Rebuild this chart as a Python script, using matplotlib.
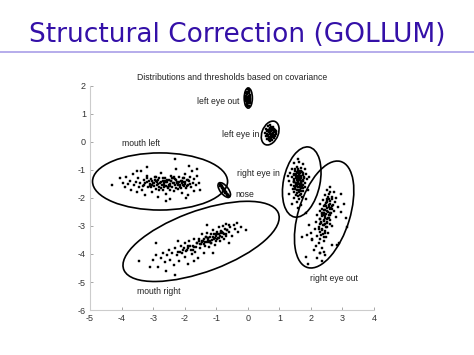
import matplotlib
matplotlib.use("Agg")
import matplotlib.pyplot as plt
from matplotlib.patches import Ellipse
from matplotlib.lines import Line2D

# ---------------- data ----------------
slide_title = "Structural Correction (GOLLUM)"
chart_title = "Distributions and thresholds based on covariance"
x_ticks = [-5, -4, -3, -2, -1, 0, 1, 2, 3, 4]
y_ticks = [-6, -5, -4, -3, -2, -1, 0, 1, 2]

mouth_left_x = [-4.30, -4.05, -3.95, -3.90, -3.85, -3.80, -3.72, -3.70, -3.65, -3.60, -3.55, -3.52, -3.48, -3.45,
                -3.40, -3.38, -3.35, -3.30, -3.28, -3.25, -3.20, -3.18, -3.15, -3.10, -3.08, -3.05, -3.00, -2.98,
                -2.95, -2.92, -2.90, -2.88, -2.85, -2.82, -2.80, -2.78, -2.75, -2.72, -2.70, -2.68, -2.65, -2.62,
                -2.60, -2.58, -2.55, -2.52, -2.50, -2.48, -2.45, -2.42, -2.40, -2.38, -2.35, -2.32, -2.30, -2.28,
                -2.25, -2.22, -2.20, -2.18, -2.15, -2.12, -2.10, -2.08, -2.05, -2.02, -2.00, -1.98, -1.95, -1.92,
                -1.90, -1.88, -1.85, -1.82, -1.80, -1.78, -1.75, -1.72, -1.70, -1.65, -1.60, -1.55, -1.50, -2.30,
                -1.85, -3.20, -2.60, -3.50, -1.95, -1.62, -2.66, -2.44, -2.86, -2.24, -2.06, -3.02, -2.54, -2.36,
                -3.25, -3.12, -3.02, -2.94, -2.84, -2.76, -2.66, -2.56, -2.46, -2.34, -2.26, -2.16, -2.04, -1.94,
                -1.84, -3.18, -3.06, -2.96, -2.87, -2.74, -2.63, -2.51, -2.41, -2.29, -2.19, -2.09, -1.99, -1.89,
                -3.32, -2.70, -2.58, -2.47, -2.35, -2.22, -2.12, -2.02, -3.10, -2.90, -2.80, -2.44]
mouth_left_y = [-1.55, -1.30, -1.45, -1.62, -1.25, -1.50, -1.38, -1.70, -1.15, -1.55, -1.42, -1.80, -1.30, -1.60,
                -1.48, -1.05, -1.72, -1.35, -1.55, -1.90, -1.42, -1.20, -1.62, -1.50, -1.33, -1.78, -1.45, -1.58,
                -1.25, -1.68, -1.40, -1.52, -1.95, -1.30, -1.60, -1.45, -1.12, -1.55, -1.38, -1.70, -1.48, -1.28,
                -1.58, -1.85, -1.42, -1.65, -1.35, -1.50, -2.05, -1.22, -1.62, -1.45, -1.75, -1.32, -1.55, -0.95,
                -1.42, -1.68, -1.50, -1.25, -1.60, -1.38, -1.82, -1.48, -1.30, -1.58, -1.42, -1.15, -1.65, -1.35,
                -1.52, -1.90, -1.40, -1.25, -1.62, -1.05, -1.45, -1.75, -1.32, -1.55, -1.20, -1.48, -1.70, -0.60,
                -0.85, -0.90, -2.10, -1.05, -2.00, -0.95, -1.52, -1.40, -1.36, -1.46, -1.52, -1.40, -1.60, -1.28,
                -1.46, -1.40, -1.55, -1.36, -1.50, -1.42, -1.60, -1.34, -1.56, -1.46, -1.36, -1.54, -1.44, -1.58,
                -1.50, -1.28, -1.62, -1.48, -1.44, -1.66, -1.40, -1.52, -1.30, -1.64, -1.42, -1.38, -1.50, -1.34,
                -1.58, -1.30, -1.44, -1.70, -1.26, -1.54, -1.66, -1.28, -1.56, -1.26, -1.72, -1.40]

mouth_right_x = [-3.45, -3.10, -3.00, -2.90, -2.85, -2.75, -2.70, -2.62, -2.55, -2.50, -2.45, -2.40, -2.35, -2.30,
                 -2.25, -2.20, -2.18, -2.12, -2.10, -2.05, -2.00, -1.98, -1.95, -1.90, -1.88, -1.85, -1.80, -1.78,
                 -1.75, -1.70, -1.68, -1.65, -1.60, -1.58, -1.55, -1.50, -1.48, -1.45, -1.42, -1.40, -1.38, -1.35,
                 -1.32, -1.30, -1.28, -1.25, -1.22, -1.20, -1.18, -1.15, -1.12, -1.10, -1.08, -1.05, -1.02, -1.00,
                 -0.98, -0.95, -0.92, -0.90, -0.88, -0.85, -0.82, -0.80, -0.78, -0.75, -0.72, -0.70, -0.68, -0.65,
                 -0.60, -0.58, -0.55, -0.50, -0.45, -0.40, -0.35, -0.30, -0.20, -0.05, -2.60, -1.70, -1.10, -2.20,
                 -2.30, -2.90, -0.60, -1.30, -1.26, -1.02, -0.84, -1.46,
                 -2.15, -2.02, -1.92, -1.82, -1.72, -1.62, -1.52, -1.44, -1.36, -1.27, -1.19, -1.11, -1.04, -0.96,
                 -0.89, -0.81, -0.74, -0.66, -1.56, -1.40, -1.24, -1.06, -0.92, -1.74, -1.88, -1.33, -1.16, -0.98,
                 -0.86, -0.70]
mouth_right_y = [-4.25, -4.45, -4.20, -4.05, -4.48, -4.15, -3.95, -4.30, -4.05, -3.85, -4.20, -3.98, -4.40, -3.80,
                 -4.05, -3.92, -4.25, -3.70, -3.98, -3.85, -4.12, -3.62, -3.90, -3.78, -4.35, -3.55, -3.85, -4.00,
                 -3.70, -3.48, -3.92, -3.75, -3.60, -4.15, -3.45, -3.80, -3.65, -3.30, -3.55, -3.95, -3.48, -3.70,
                 -3.38, -3.58, -3.25, -3.50, -3.75, -3.40, -3.62, -3.30, -3.50, -3.15, -3.45, -3.68, -3.35, -3.55,
                 -3.22, -3.42, -3.05, -3.30, -3.55, -3.18, -3.38, -3.00, -3.25, -3.45, -3.10, -2.92, -3.30, -3.15,
                 -2.95, -3.22, -3.05, -3.35, -2.98, -3.12, -2.90, -3.20, -3.05, -3.15, -4.60, -4.25, -3.95, -3.55,
                 -4.75, -3.60, -3.60, -2.95, -3.42, -3.28, -3.20, -3.58,
                 -3.92, -3.80, -3.84, -3.70, -3.74, -3.62, -3.66, -3.52, -3.58, -3.44, -3.52, -3.38, -3.42, -3.30,
                 -3.36, -3.22, -3.28, -3.16, -3.55, -3.66, -3.56, -3.30, -3.44, -3.86, -3.72, -3.40, -3.62, -3.48,
                 -3.26, -3.36]

right_eye_in_x = [1.45, 1.62, 1.75, 1.55, 1.68, 1.40, 1.80, 1.50, 1.62, 1.72, 1.35, 1.58, 1.85, 1.45, 1.66, 1.52,
                  1.78, 1.40, 1.60, 1.70, 1.48, 1.88, 1.55, 1.65, 1.32, 1.75, 1.58, 1.45, 1.68, 1.82, 1.52, 1.62,
                  1.38, 1.72, 1.56, 1.66, 1.46, 1.80, 1.60, 1.50, 1.70, 1.42, 1.64, 1.55, 1.76, 1.48, 1.62, 1.68,
                  1.52, 1.58, 1.72, 1.45, 1.62, 1.55, 1.70, 1.30, 1.95, 1.90, 1.28, 1.60, 1.52, 1.74, 1.64, 1.56,
                  1.74, 1.48, 1.66, 1.58, 1.70, 1.54, 1.60, 1.40, 1.85,
                  1.50, 1.60, 1.70, 1.55, 1.65, 1.75, 1.48, 1.58, 1.68, 1.78, 1.52, 1.62, 1.72, 1.46, 1.56, 1.66,
                  1.76, 1.54, 1.64, 1.74, 1.50, 1.60, 1.70, 1.58, 1.68, 1.62, 1.53, 1.71, 1.57, 1.67]
right_eye_in_y = [-0.75, -0.70, -0.80, -0.88, -0.92, -0.95, -0.98, -1.02, -1.05, -1.08, -1.10, -1.12, -1.15, -1.18,
                  -1.20, -1.22, -1.24, -1.26, -1.28, -1.30, -1.32, -1.33, -1.35, -1.37, -1.38, -1.40, -1.42, -1.44,
                  -1.45, -1.47, -1.48, -1.50, -1.52, -1.53, -1.55, -1.57, -1.58, -1.60, -1.62, -1.64, -1.66, -1.68,
                  -1.70, -1.72, -1.74, -1.77, -1.80, -1.84, -1.88, -1.92, -1.95, -2.00, -2.05, -2.15, -2.25, -1.85,
                  -1.25, -1.70, -1.20, -0.60, -1.15, -1.18, -1.28, -1.45, -1.35, -1.40, -1.62, -1.30, -1.48, -1.58,
                  -2.35, -2.20, -2.05,
                  -0.95, -0.98, -1.02, -1.06, -1.10, -1.12, -1.16, -1.20, -1.23, -1.27, -1.30, -1.34, -1.38, -1.42,
                  -1.46, -1.50, -1.52, -1.56, -1.60, -1.64, -1.68, -1.72, -1.76, -1.02, -1.40, -1.14, -1.50, -1.62,
                  -1.82, -1.90]

right_eye_out_x = [2.62, 2.50, 2.72, 2.58, 2.45, 2.68, 2.80, 2.52, 2.38, 2.62, 2.75, 2.48, 2.30, 2.58, 2.68, 2.42,
                   2.85, 2.52, 2.35, 2.62, 2.45, 2.72, 2.28, 2.55, 2.40, 2.65, 2.48, 2.20, 2.58, 2.35, 2.78, 2.45,
                   2.52, 2.30, 2.62, 2.40, 2.15, 2.50, 2.32, 2.60, 2.42, 2.25, 2.52, 2.35, 2.12, 2.45, 2.28, 2.55,
                   2.38, 2.20, 2.48, 2.30, 2.05, 2.42, 2.25, 2.15, 2.35, 2.10, 2.28, 2.45, 2.20, 2.35, 1.90, 2.95,
                   3.10, 3.05, 2.95, 1.95, 2.00, 2.90, 3.15, 1.85, 2.68, 2.58, 2.48, 2.38, 2.55, 2.42, 2.65, 2.32,
                   1.72, 1.88, 2.04, 2.30, 2.41, 2.67, 2.83, 1.83,
                   2.60, 2.55, 2.66, 2.50, 2.60, 2.45, 2.56, 2.66, 2.40, 2.50, 2.60, 2.35, 2.46, 2.56, 2.30, 2.42,
                   2.52, 2.28, 2.38, 2.48, 2.25, 2.36, 2.44, 2.32, 2.40, 2.70, 2.52, 2.62, 2.46, 2.34]
right_eye_out_y = [-1.62, -1.72, -1.78, -1.85, -1.90, -1.95, -2.00, -2.02, -2.08, -2.10, -2.15, -2.18, -2.22, -2.25,
                   -2.28, -2.30, -2.32, -2.35, -2.38, -2.40, -2.42, -2.45, -2.48, -2.50, -2.52, -2.55, -2.58, -2.60,
                   -2.62, -2.65, -2.68, -2.70, -2.74, -2.76, -2.78, -2.82, -2.85, -2.88, -2.90, -2.94, -2.98, -3.02,
                   -3.05, -3.10, -3.12, -3.18, -3.22, -3.25, -3.30, -3.35, -3.40, -3.45, -3.50, -3.55, -3.62, -3.70,
                   -3.78, -3.85, -3.95, -4.05, -4.15, -4.25, -4.35, -2.50, -2.70, -2.20, -1.85, -2.95, -3.25, -3.60,
                   -3.05, -2.55, -3.00, -2.05, -2.28, -2.55, -2.72, -2.62, -2.35, -2.85, -3.38, -3.32, -3.47, -3.98,
                   -3.92, -3.68, -3.68, -4.10,
                   -1.80, -1.95, -2.05, -2.10, -2.20, -2.25, -2.32, -2.38, -2.42, -2.48, -2.55, -2.58, -2.64, -2.70,
                   -2.75, -2.80, -2.86, -2.92, -2.98, -3.04, -3.10, -3.16, -3.24, -3.32, -3.40, -2.25, -2.15, -2.62,
                   -2.92, -2.52]

left_eye_out_x = [0.00, 0.03, -0.04, 0.05, -0.02, 0.07, -0.06, 0.02, 0.04, -0.03, 0.06, -0.05, 0.01, 0.05, -0.02,
                  0.03, 0.00, -0.07, 0.08, 0.02, -0.01, 0.05, -0.04, 0.03, -0.05, 0.06, -0.06, 0.07, 0.00, -0.03,
                  0.04, -0.05, 0.06]
left_eye_out_y = [1.88, 1.84, 1.80, 1.75, 1.72, 1.68, 1.65, 1.62, 1.58, 1.55, 1.52, 1.48, 1.45, 1.40, 1.36, 1.30,
                  1.27, 1.58, 1.60, 1.50, 1.70, 1.65, 1.42, 1.78, 1.74, 1.46, 1.52, 1.55, 1.62, 1.35, 1.82, 1.32,
                  1.38]

left_eye_in_x = [0.72, 0.65, 0.80, 0.70, 0.58, 0.76, 0.86, 0.68, 0.62, 0.74, 0.82, 0.66, 0.55, 0.78, 0.70, 0.88,
                 0.64, 0.74, 0.60, 0.80, 0.68, 0.84, 0.72, 0.76, 0.62, 0.70, 0.78, 0.66, 0.82, 0.74, 0.90, 0.57,
                 0.64, 0.70, 0.76, 0.82, 0.86, 0.68, 0.74, 0.80, 0.62, 0.72, 0.78, 0.84, 0.66, 0.88]
left_eye_in_y = [0.62, 0.56, 0.55, 0.50, 0.48, 0.46, 0.44, 0.42, 0.40, 0.38, 0.36, 0.34, 0.32, 0.30, 0.28, 0.27,
                 0.24, 0.22, 0.20, 0.18, 0.15, 0.14, 0.10, 0.06, 0.12, 0.04, 0.30, 0.36, 0.40, 0.52, 0.34, 0.22,
                 0.44, 0.36, 0.26, 0.48, 0.20, 0.08, 0.14, 0.32, 0.30, 0.46, 0.42, 0.24, 0.18, 0.40]

nose_x = [-0.88, -0.855, -0.828, -0.80, -0.773, -0.746, -0.719, -0.69, -0.664, -0.637, -0.61, -0.84, -0.79, -0.74,
          -0.69, -0.64, -0.87, -0.82, -0.77, -0.72, -0.67, -0.63, -0.86, -0.81, -0.76, -0.71, -0.66]
nose_y = [-1.50, -1.546, -1.588, -1.63, -1.672, -1.714, -1.756, -1.80, -1.84, -1.88, -1.92, -1.57, -1.65, -1.73,
          -1.81, -1.89, -1.58, -1.66, -1.74, -1.82, -1.90, -1.95, -1.53, -1.61, -1.69, -1.77, -1.85]

# threshold ellipses: centre x, centre y, width, height, angle (deg)
ell_names = ["mouth left", "mouth right", "nose", "left eye out", "left eye in", "right eye in", "right eye out"]
ell_cx = [-2.78, -1.48, -0.746, 0.016, 0.71, 1.71, 2.42]
ell_cy = [-1.41, -3.55, -1.714, 1.57, 0.32, -1.43, -2.59]
ell_w = [4.28, 5.30, 0.60, 0.72, 0.88, 2.54, 3.93]
ell_h = [2.04, 2.15, 0.27, 0.26, 0.52, 1.16, 1.64]
ell_ang = [0, 23, -57, 90, 72, 80, 75]

label_text = ["left eye out", "left eye in", "mouth left", "right eye in", "nose", "right eye out", "mouth right"]
label_x = [-0.27, 0.38, -3.98, -0.33, -0.40, 1.98, -3.51]
label_y = [1.46, 0.26, -0.05, -1.14, -1.86, -4.86, -5.35]
label_ha = ["right", "right", "left", "left", "left", "left", "left"]

# ---------------- figure ----------------
fig = plt.figure(figsize=(4.74, 3.55), dpi=100)
fig.patch.set_facecolor("white")

fig.text(0.5, 1 - 34.5 / 355, slide_title, ha="center", va="center", fontsize=19,
         color="#3410a8", family="DejaVu Sans")
fig.add_artist(Line2D([0, 1], [1 - 51.5 / 355, 1 - 51.5 / 355], transform=fig.transFigure,
                      color="#a99ee8", lw=1.2))

ax = fig.add_axes([90 / 474, 1 - 310 / 355, (374 - 90) / 474, (310 - 86) / 355])
ax.set_xlim(-5, 4)
ax.set_ylim(-6, 2)

pts = dict(ls="none", marker="s", ms=1.9, mfc="black", mec="black", mew=0.3)
for xs, ys in [(mouth_left_x, mouth_left_y), (mouth_right_x, mouth_right_y),
               (right_eye_in_x, right_eye_in_y), (right_eye_out_x, right_eye_out_y),
               (left_eye_out_x, left_eye_out_y), (left_eye_in_x, left_eye_in_y), (nose_x, nose_y)]:
    ax.plot(xs, ys, **pts)

for cx, cy, w, h, a in zip(ell_cx, ell_cy, ell_w, ell_h, ell_ang):
    ax.add_patch(Ellipse((cx, cy), w, h, angle=a, fill=False, ec="black", lw=1.2))

for t, x, y, ha in zip(label_text, label_x, label_y, label_ha):
    ax.text(x, y, t, ha=ha, va="center", fontsize=6.2, color="#222222", family="Liberation Sans")

ax.text(0.5, 1 + 8 / 224, chart_title, transform=ax.transAxes, ha="center", va="center",
        fontsize=6.2, color="#222222", family="Liberation Sans")

ax.set_xticks(x_ticks)
ax.set_yticks(y_ticks)
ax.set_xticklabels([str(v) for v in x_ticks])
ax.set_yticklabels([str(v) for v in y_ticks])
ax.tick_params(direction="in", length=2.5, width=0.6, color="#999999", labelsize=6.5,
               labelcolor="#333333", pad=3)
for lbl in ax.get_xticklabels() + ax.get_yticklabels():
    lbl.set_family("Liberation Sans")
for s in ["top", "right"]:
    ax.spines[s].set_visible(False)
for s in ["left", "bottom"]:
    ax.spines[s].set_color("#cccccc")
    ax.spines[s].set_linewidth(0.8)

fig.savefig("out.png", dpi=100)
